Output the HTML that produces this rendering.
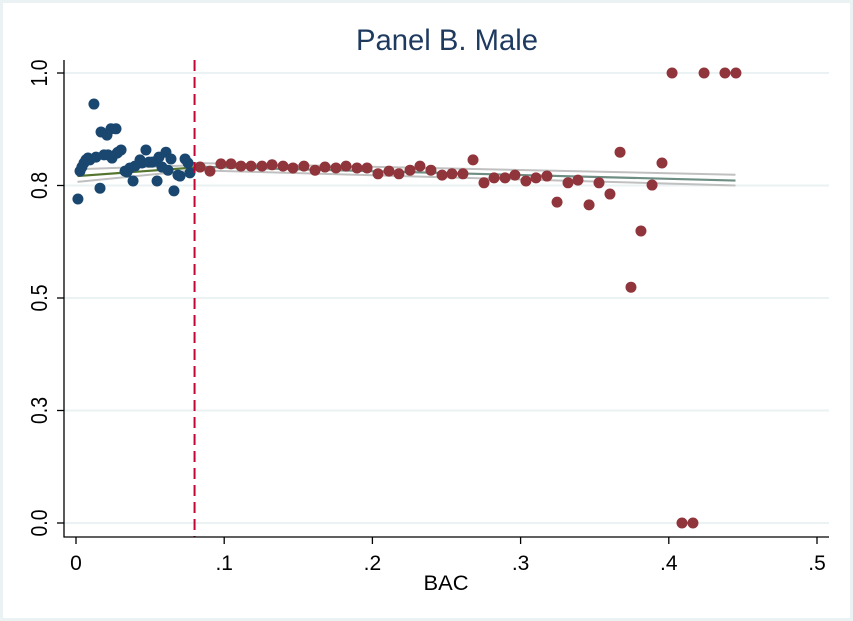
<!DOCTYPE html>
<html><head><meta charset="utf-8"><style>
html,body{margin:0;padding:0;background:#fff}
svg{display:block;font-family:"Liberation Sans",sans-serif}
</style></head><body>
<svg id="chart" width="853" height="621" viewBox="0 0 853 621" xmlns="http://www.w3.org/2000/svg">
<rect x="0" y="0" width="853" height="621" fill="#eaf2f3"/>
<rect x="3" y="3" width="847" height="615" fill="#fff"/>
<text x="447" y="50" text-anchor="middle" font-size="30" textLength="182" lengthAdjust="spacingAndGlyphs" fill="#1e3a5f">Panel B. Male</text>
<g id="grid"></g><g id="fits"></g><g id="pts"></g><g id="axes"></g>
</svg>
<script>
const yTicks=[0,0.25,0.5,0.75,1];
const yTickLabels=["0.0","0.3","0.5","0.8","1.0"];
const xTicks=[0,0.1,0.2,0.3,0.4,0.5];
const xTickLabels=["0",".1",".2",".3",".4",".5"];
const cutoff=0.08;
const blueX=[.0013,.0027,.004,.0054,.0067,.0081,.0094,.0121,.0135,.0162,.0169,.0189,.0209,.0216,.0236,.0243,.027,.0277,.0283,.0304,.0331,.0344,.0364,.0385,.0398,.0432,.0445,.0472,.0493,.0513,.054,.0547,.056,.058,.0607,.0621,.0641,.0661,.0688,.0702,.0736,.0756,.0769];
const blueY=[.72,.782,.791,.8,.807,.811,.807,.931,.813,.744,.869,.818,.862,.818,.876,.811,.876,.822,.824,.829,.782,.78,.789,.76,.793,.807,.8,.829,.802,.802,.804,.76,.813,.791,.824,.784,.809,.738,.773,.771,.809,.8,.778];
const redX=[.0837,.0904,.0978,.1046,.1113,.1181,.1255,.1323,.1397,.1464,.1538,.1613,.168,.1754,.1822,.1896,.1964,.2038,.2112,.2179,.2254,.2321,.2395,.247,.2537,.2611,.2679,.2753,.2821,.2895,.2962,.3036,.3104,.3178,.3246,.332,.3387,.3462,.3529,.3603,.3671,.3745,.3812,.3887,.3954,.4022,.4089,.4163,.4238,.4379,.4453];
const redY=[.791,.782,.798,.798,.793,.793,.793,.796,.793,.789,.793,.784,.791,.789,.793,.789,.789,.776,.782,.776,.784,.793,.784,.773,.776,.776,.807,.756,.767,.767,.773,.76,.767,.771,.713,.756,.762,.707,.756,.731,.824,.524,.649,.751,.8,1,0,0,1,1,1];
const leftFitX=[0.001,0.08];
const leftFit=[.771,.79];
const leftUpper=[.786,.795];
const leftLower=[.758,.784];
const rightFitX=[0.08,0.445];
const rightFit=[.792,.761];
const rightUpper=[.8,.774];
const rightLower=[.784,.75];

const X0=76,XS=1482,Y0=523,YS=450;
const sx=v=>X0+v*XS, sy=v=>Y0-v*YS;
const NS="http://www.w3.org/2000/svg";
function mk(tag,parent,attrs){const e=document.createElementNS(NS,tag);for(const k in attrs)e.setAttribute(k,attrs[k]);parent.appendChild(e);return e;}
const grid=document.getElementById('grid'),fits=document.getElementById('fits'),pts=document.getElementById('pts'),axes=document.getElementById('axes');
yTicks.forEach((t,i)=>{
  const g=mk('line',grid,{x1:64,x2:829,y1:sy(t),y2:sy(t),stroke:'#eaf2f3','stroke-width':2});
  
  
  const tk=mk('line',axes,{x1:57,x2:64,y1:sy(t),y2:sy(t),stroke:'#000','stroke-width':1.3});
  
  
  const y=sy(t);
  const lb=mk('text',axes,{x:0,y:0,'font-size':23,'text-anchor':'middle',textLength:27,lengthAdjust:'spacingAndGlyphs',fill:'#000',transform:`translate(47,${y}) rotate(-90)`});
  lb.textContent=yTickLabels[i];
  
  
});
xTicks.forEach((t,i)=>{
  const tk=mk('line',axes,{x1:sx(t),x2:sx(t),y1:537,y2:544,stroke:'#000','stroke-width':1.3});
  
  
  const lb=mk('text',axes,{x:sx(t),y:570,'font-size':21,'text-anchor':'middle',fill:'#000'});
  lb.textContent=xTickLabels[i];
  
  
});
const ax=mk('path',axes,{d:'M64,60 V537 H829',fill:'none',stroke:'#000','stroke-width':1.3});


const xt=mk('text',axes,{x:446,y:590,'font-size':21,'text-anchor':'middle',textLength:45,lengthAdjust:'spacingAndGlyphs',fill:'#000'});
xt.textContent='BAC';


function line(xs,ys,color,w,name){
  const l=mk('polyline',fits,{points:xs.map((x,i)=>sx(x)+','+sy(ys[i])).join(' '),fill:'none',stroke:color,'stroke-width':w});
  
  
}
line(leftFitX,leftUpper,'#c0c0c0',2,'left-ci-upper');
line(leftFitX,leftLower,'#c0c0c0',2,'left-ci-lower');
line(rightFitX,rightUpper,'#c0c0c0',2,'right-ci-upper');
line(rightFitX,rightLower,'#c0c0c0',2,'right-ci-lower');
blueX.forEach((x,i)=>{
  const c=mk('circle',pts,{cx:sx(x),cy:sy(blueY[i]),r:5.5,fill:'#1a476f'});
  
  
});
redX.forEach((x,i)=>{
  const c=mk('circle',pts,{cx:sx(x),cy:sy(redY[i]),r:5.5,fill:'#90353b'});
  
  
});
line(leftFitX,leftFit,'#55752f',2.2,'left-fit-line');
line(rightFitX,rightFit,'#6e8e84',2.2,'right-fit-line');
const cl=mk('line',pts,{x1:sx(cutoff),x2:sx(cutoff),y1:60,y2:537,stroke:'#c10534','stroke-width':2,'stroke-dasharray':'11,6'});


</script>
</body></html>
